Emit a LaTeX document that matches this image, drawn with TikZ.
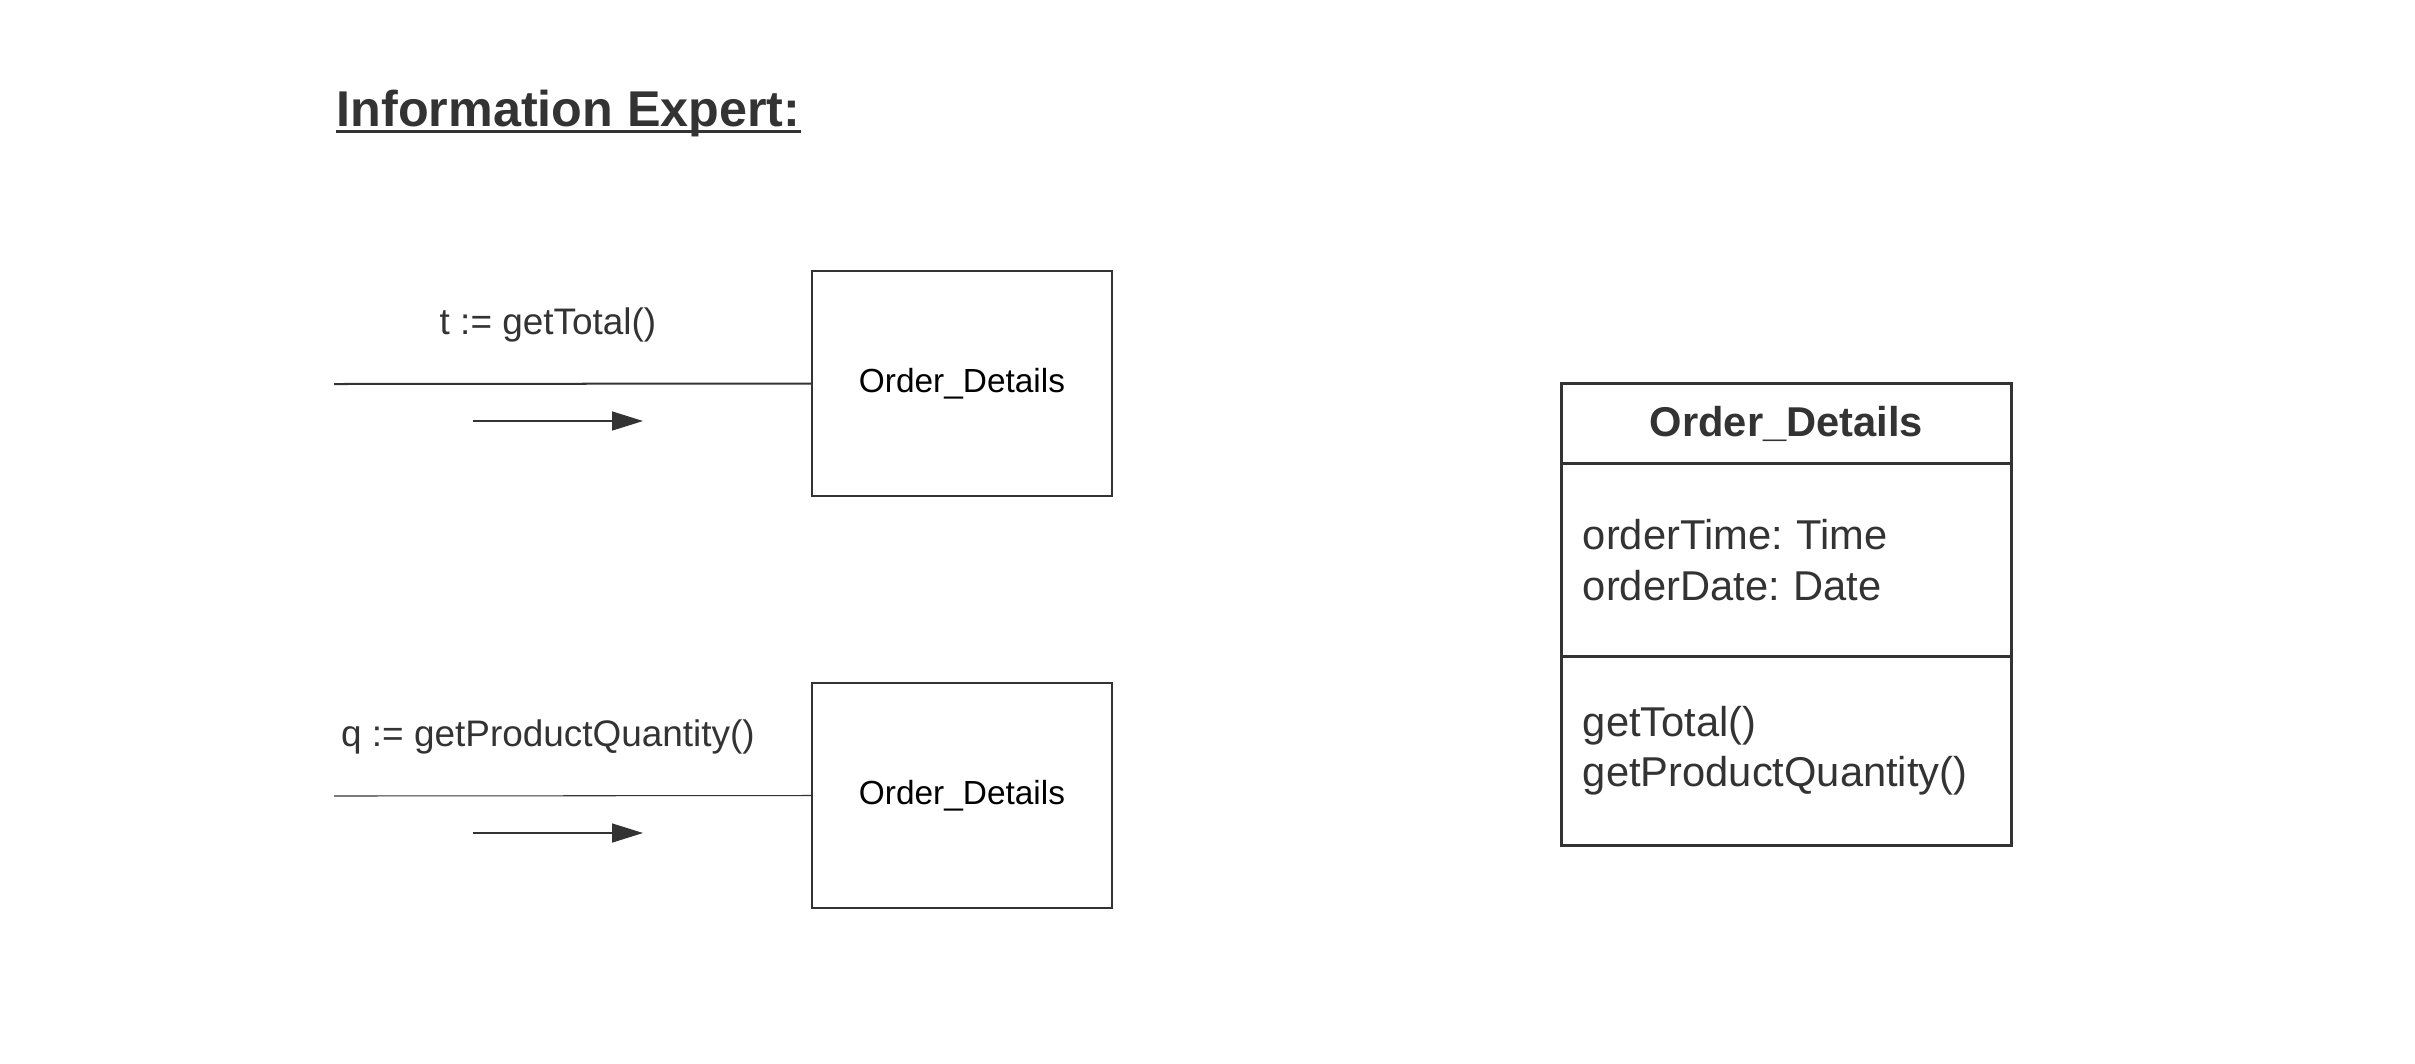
\documentclass[tikz,border=0pt]{standalone}
\usepackage{fontspec}
\setmainfont{Liberation Sans}
\frenchspacing
\usetikzlibrary{positioning,arrows.meta}
\definecolor{ink}{HTML}{333333}
\tikzset{
  objbox/.style={draw=ink, line width=0.4pt, minimum width=3cm, minimum height=2.25cm, text=black, font=\fontsize{9.5}{11}\selectfont},
  msglabel/.style={text=ink, font=\fontsize{10.5}{12}\selectfont},
  msgarrow/.style={draw=ink, line width=0.4pt, -{Triangle[length=8.8pt,width=5.4pt]}},
  classpart/.style={draw=ink, line width=0.85pt, minimum width=4.49cm, outer sep=0pt, text=ink, font=\fontsize{11.85}{14.4}\selectfont}
}
\begin{document}
\begin{tikzpicture}[x=0.01cm, y=-0.01cm]
  \useasboundingbox (0,0) rectangle (2415,1063);
  % heading
  \node[anchor=base west, inner sep=0pt, text=ink, font=\fontsize{14.3}{17}\selectfont\bfseries] (title) at (336,126) {Information Expert:};
  \draw[ink, line width=0.9pt] ([yshift=-1.5pt]title.base west) -- ([yshift=-1.5pt]title.base east);
  % messages
  \node[objbox] (od1) at (962,383.5) {Order\_Details};
  \node[objbox] (od2) at (962,795.5) {Order\_Details};
  \coordinate (in1) at (334,384);
  \coordinate (in2) at (334,796);
  \draw[ink, line width=0.57pt] (in1) -- (od1.west);
  \draw[ink, line width=0.3pt] (in2) -- (od2.west);
  \node[msglabel] (m1) at (548,325) {t := getTotal()};
  \node[msglabel] (m2) at (548,737) {q := getProductQuantity()};
  \coordinate (a1s) at (473,421);
  \coordinate (a1e) at (643,421);
  \coordinate (a2s) at (473,833);
  \coordinate (a2e) at (643,833);
  \draw[msgarrow] (a1s) -- (a1e);
  \draw[msgarrow] (a2s) -- (a2e);
  % class
  \node[classpart, minimum height=0.8cm, font=\fontsize{11.85}{14.4}\selectfont\bfseries] (hdr) at (1786.5,423.5) {Order\_Details};
  \node[classpart, below=0pt of hdr, minimum height=1.924cm, text width=4.07cm, inner xsep=0.21cm, align=left] (attrs) {orderTime: Time\\orderDate: Date\\[3pt]};
  \node[classpart, below=0pt of attrs, minimum height=1.896cm, text width=4.07cm, inner xsep=0.21cm, align=left] (ops) {getTotal()\\getProductQuantity()};
\end{tikzpicture}
\end{document}
